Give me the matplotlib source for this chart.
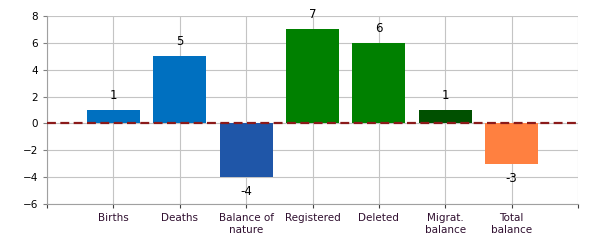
import matplotlib.pyplot as plt

categories = ["Births", "Deaths", "Balance of\nnature", "Registered", "Deleted", "Migrat.\nbalance", "Total\nbalance"]
values = [1, 5, -4, 7, 6, 1, -3]
colors = ["#0070C0", "#0070C0", "#1F56A8", "#008000", "#008000", "#005000", "#FF8040"]

fig = plt.figure(figsize=(6, 2.5), dpi=100)
ax = fig.add_axes([47 / 600, 46 / 250, 531 / 600, 188 / 250])

x = list(range(len(categories)))
ax.bar(x, values, width=0.8, color=colors, zorder=2)
ax.axhline(0, color="#8B1A1A", linestyle=(0, (4, 2)), linewidth=1.6, zorder=3)

for xi, v in zip(x, values):
    if v >= 0:
        ax.annotate(str(v), (xi, v), xytext=(0, 6), textcoords="offset points",
                    ha="center", va="bottom", fontsize=8.5)
    else:
        ax.annotate(str(v), (xi, v), xytext=(0, -6), textcoords="offset points",
                    ha="center", va="top", fontsize=8.5)

ax.set_xlim(-1, 7)
ax.set_ylim(-6, 8)
ax.set_yticks(range(-6, 9, 2))
ax.set_xticks(range(-1, 8))
ax.set_xticklabels([""] + categories + [""], fontsize=7.5, color="#301030")
ax.tick_params(axis="y", labelsize=7.5, length=3, color="#808080")
ax.tick_params(axis="x", length=3, color="#404040")
ax.grid(True, color="#C4C4C4", linewidth=0.8, zorder=0)
ax.set_axisbelow(True)
for s in ["top", "right"]:
    ax.spines[s].set_visible(False)
for s in ["left", "bottom"]:
    ax.spines[s].set_color("#A0A0A0")

fig.savefig("out.png")
